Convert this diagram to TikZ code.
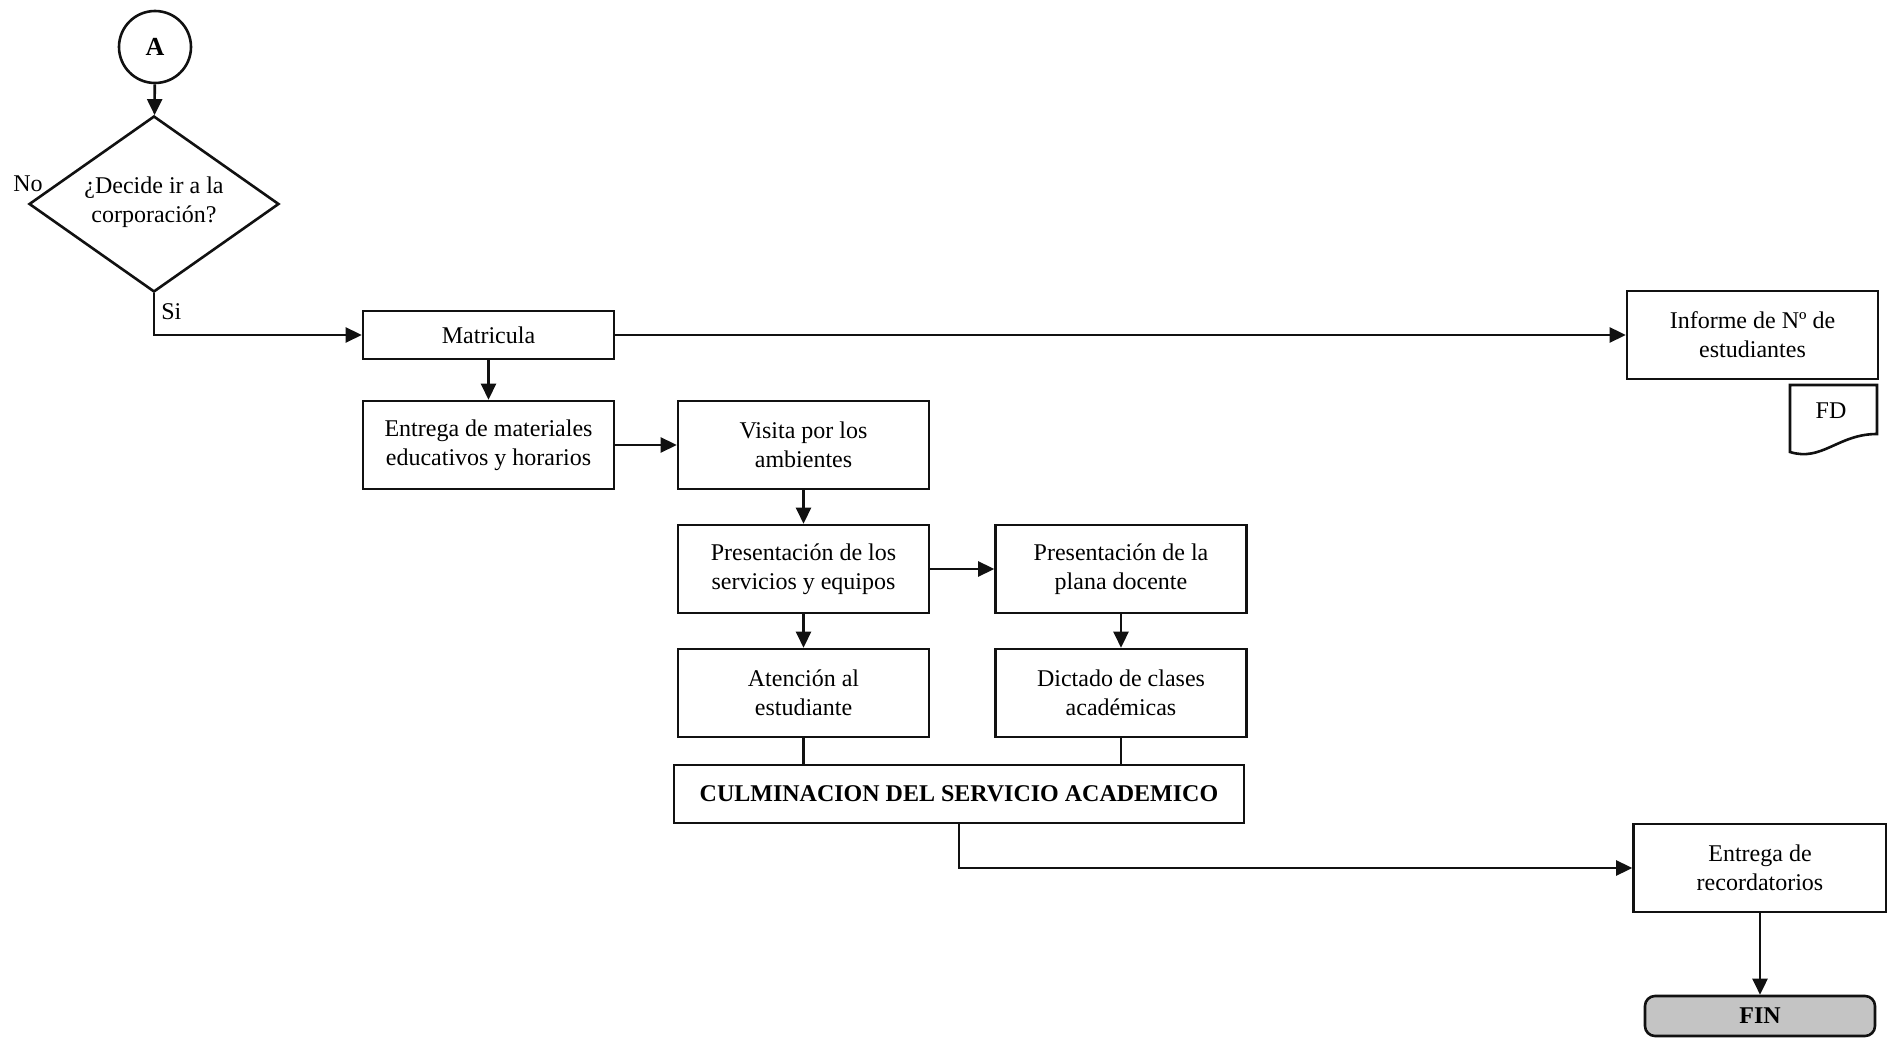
\documentclass[tikz,border=0pt]{standalone}
\usepackage{fontspec}
\setmainfont{Liberation Serif}
\usetikzlibrary{shapes.geometric,arrows.meta}
\definecolor{ink}{HTML}{111111}
\definecolor{finfill}{HTML}{C4C4C4}
\tikzset{
  box/.style={draw=ink, line width=1.3pt, minimum width=125.5pt, minimum height=44pt, inner sep=0pt, align=center, font=\fontsize{12}{14.5}\selectfont},
  flow/.style={draw=ink, line width=1.3pt, -{Triangle[length=8pt,width=7.5pt]}},
  link/.style={draw=ink, line width=1.3pt},
  lab/.style={font=\fontsize{12}{14.5}\selectfont, inner sep=0pt},
}

\begin{document}
\begin{tikzpicture}[x=0.5pt,y=-0.5pt]
  \useasboundingbox (0,0) rectangle (1887,1053);

  \node[circle, draw=ink, line width=1.3pt, minimum size=36pt, inner sep=0pt, font=\fontsize{13}{15}\selectfont\bfseries] (A) at (155,47) {A};
  \node[diamond, draw=ink, line width=1.3pt, minimum width=125pt, minimum height=88pt, aspect=1.42, inner sep=0pt, align=center, font=\fontsize{12}{14.5}\selectfont] (dec) at (154,204) {¿Decide ir a la\\corporación?\vspace{2pt}};
  \node[lab, anchor=east] (no) at (43,184) {No};
  \node[lab, anchor=west] (si) at (161,312) {Si};

  \node[box, minimum height=24pt] (mat) at (488.5,335) {Matricula};
  \node[box] (ent) at (488.5,445) {Entrega de materiales\\educativos y horarios};
  \node[box] (vis) at (803.5,445) {Visita por los\\ambientes};
  \node[box] (ps) at (803.5,569) {Presentación de los\\servicios y equipos};
  \node[box] (pp) at (1121,569) {Presentación de la\\plana docente};
  \node[box] (at) at (803.5,693) {Atención al\\estudiante};
  \node[box] (dc) at (1121,693) {Dictado de clases\\académicas};
  \node[box, minimum width=285pt, minimum height=29pt, font=\fontsize{12}{14.5}\selectfont\bfseries] (cul) at (959,794) {CULMINACION DEL SERVICIO ACADEMICO};

  \node[box] (inf) at (1752.5,335) {Informe de Nº de\\estudiantes};
  \draw[link] (1790,452) -- (1790,385) -- (1877,385) -- (1877,434)
    .. controls (1838,434) and (1822,462) .. cycle;
  \node[lab] (fd) at (1831,411) {FD};

  \node[box, minimum width=126.5pt] (rec) at (1760,868) {Entrega de\\recordatorios};
  \node[box, rounded corners=5pt, fill=finfill, minimum width=115pt, minimum height=20pt, font=\fontsize{12}{14.5}\selectfont\bfseries] (fin) at (1760,1016) {FIN};

  \draw[flow] (A) -- (dec);
  \draw[flow] (dec.south) |- (mat.west);
  \draw[flow] (mat) -- (ent);
  \draw[flow] (mat) -- (inf);
  \draw[flow] (ent) -- (vis);
  \draw[flow] (vis) -- (ps);
  \draw[flow] (ps) -- (pp);
  \draw[flow] (ps) -- (at);
  \draw[flow] (pp) -- (dc);
  \draw[link] (at.south) -- (at.south |- cul.north);
  \draw[link] (dc.south) -- (dc.south |- cul.north);
  \draw[flow] (cul.south) |- (rec.west);
  \draw[flow] (rec) -- (fin);
\end{tikzpicture}
\end{document}
